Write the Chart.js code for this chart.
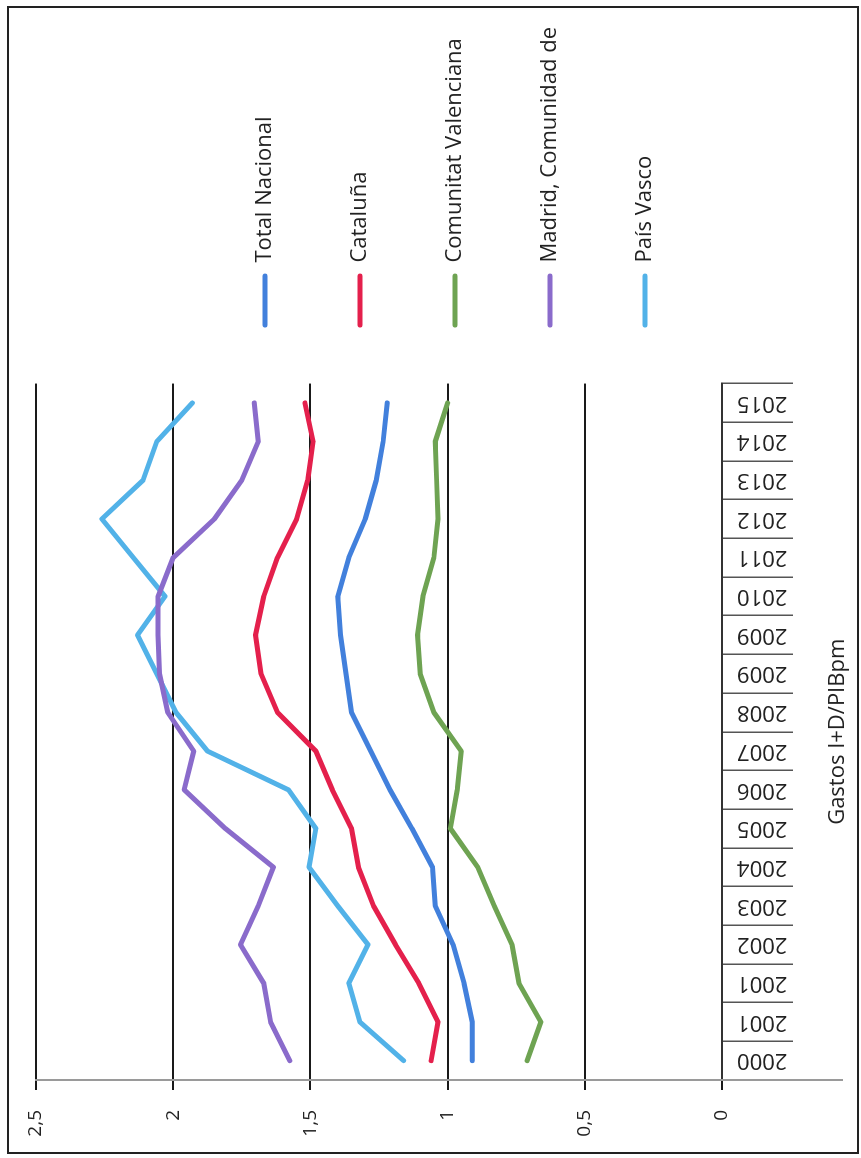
<!DOCTYPE html>
<html>
<head>
<meta charset="utf-8">
<script src="https://cdn.jsdelivr.net/npm/chart.js@4.4.1/dist/chart.umd.min.js"></script>
<style>
    html, body { margin: 0; padding: 0; background: #fff; overflow: hidden; }
    #wrap {
        position: absolute; left: 0; top: 0; width: 1158px; height: 861px;
        transform-origin: 0 0;
        transform: translate(0, 1158px) rotate(-90deg);
    }
</style>
</head>
<body>
<div id="wrap"><canvas id="lineChartGastos" width="1158" height="861"></canvas></div>
<script>
var anios = ['2000', '2001', '2001', '2002', '2003', '2004', '2005', '2006', '2007',
    '2008', '2009', '2009', '2010', '2011', '2012', '2013', '2014', '2015'];

var totalNacional = [0.91, 0.91, 0.94, 0.98, 1.045, 1.055, 1.13, 1.21, 1.28, 1.35, 1.37, 1.39, 1.40, 1.36, 1.30, 1.26, 1.235, 1.22];
var cataluna = [1.06, 1.035, 1.105, 1.19, 1.27, 1.325, 1.35, 1.42, 1.48, 1.62, 1.68, 1.70, 1.67, 1.62, 1.55, 1.51, 1.49, 1.52];
var valenciana = [0.71, 0.66, 0.74, 0.765, 0.83, 0.89, 0.99, 0.965, 0.95, 1.05, 1.10, 1.11, 1.09, 1.05, 1.035, 1.04, 1.045, 1.00];
var madrid = [1.575, 1.645, 1.67, 1.755, 1.69, 1.635, 1.81, 1.96, 1.925, 2.02, 2.05, 2.055, 2.055, 2.0, 1.85, 1.75, 1.69, 1.705];
var paisVasco = [1.16, 1.32, 1.36, 1.29, 1.40, 1.505, 1.48, 1.58, 1.875, 1.99, 2.06, 2.13, 2.03, 2.145, 2.26, 2.11, 2.06, 1.93];

var valueTicks = [0, 0.5, 1, 1.5, 2, 2.5];
var valueTickLabels = ['0', '0,5', '1', '1,5', '2', '2,5'];

Chart.defaults.font.family = "'Open Sans', sans-serif";
Chart.defaults.color = '#222';

function serie(label, values, color) {
    return {
        label: label,
        data: values,
        borderColor: color,
        backgroundColor: color,
        borderWidth: 5,
        borderCapStyle: 'round',
        borderJoinStyle: 'round',
        pointRadius: 0,
        tension: 0,
        fill: false
    };
}

// page frame + axis line running under the year boxes
var marco = {
    id: 'marco',
    afterDraw: function (chart) {
        var ctx = chart.ctx;
        var area = chart.chartArea;
        ctx.save();
        ctx.strokeStyle = '#9a9a9a';
        ctx.lineWidth = 2;
        ctx.beginPath();
        ctx.moveTo(area.left, area.bottom);
        ctx.lineTo(area.left, 843);
        ctx.stroke();
        ctx.strokeStyle = '#222';
        ctx.lineWidth = 2;
        ctx.strokeRect(5, 8, 1146, 850);
        ctx.restore();
    }
};

var lineData = {
    labels: anios,
    datasets: [
        serie('Total Nacional', totalNacional, '#4280dc'),
        serie('Cataluña', cataluna, '#e4204c'),
        serie('Comunitat Valenciana', valenciana, '#6ea352'),
        serie('Madrid, Comunidad de', madrid, '#8a6bcb'),
        serie('País Vasco', paisVasco, '#52b2e8')
    ]
};

var lineOptions = {
    responsive: false,
    animation: false,
    layout: {padding: {left: 8, right: 17, top: 36, bottom: 0}},
    plugins: {
        tooltip: {enabled: false},
        legend: {
            position: 'right',
            align: 'center',
            maxWidth: 420,
            title: {display: true, text: ' ', font: {size: 10}, padding: {top: 0, bottom: 18}},
            labels: {
                boxWidth: 54,
                boxHeight: 5,
                useBorderRadius: true,
                borderRadius: 2.5,
                padding: 56,
                color: '#222',
                font: {size: 22, lineHeight: '39px'},
                generateLabels: function (chart) {
                    var items = Chart.defaults.plugins.legend.labels.generateLabels(chart);
                    items.forEach(function (it) {
                        it.text = [it.text];
                        it.lineWidth = 0;
                    });
                    return items;
                }
            }
        }
    },
    scales: {
        x: {
            type: 'category',
            offset: true,
            afterFit: function (scale) { scale.height = 139; },
            grid: {
                display: true,
                offset: true,
                drawOnChartArea: false,
                drawTicks: true,
                tickLength: 71,
                color: '#555',
                lineWidth: 1.5
            },
            border: {display: true, color: '#333', width: 2},
            ticks: {
                autoSkip: false,
                minRotation: 90,
                maxRotation: 90,
                padding: -56,
                color: '#222',
                font: {size: 22}
            },
            title: {
                display: true,
                text: 'Gastos I+D/PIBpm',
                color: '#222',
                font: {size: 22},
                padding: {top: 0, bottom: 10}
            }
        },
        y: {
            min: 0,
            max: 2.5,
            afterFit: function (scale) { scale.width = 70; },
            grid: {
                color: '#1a1a1a',
                lineWidth: 2,
                drawTicks: true,
                tickLength: 10
            },
            border: {display: true, color: '#9a9a9a', width: 2},
            ticks: {
                stepSize: 0.5,
                padding: 20,
                color: '#222',
                font: {size: 19},
                callback: function (v) {
                    var k = valueTicks.indexOf(v);
                    return k < 0 ? '' : valueTickLabels[k];
                }
            }
        }
    }
};

var drawLineGraph = document.getElementById('lineChartGastos').getContext('2d');
new Chart(drawLineGraph, {type: 'line', data: lineData, options: lineOptions, plugins: [marco]});
</script>
</body>
</html>
